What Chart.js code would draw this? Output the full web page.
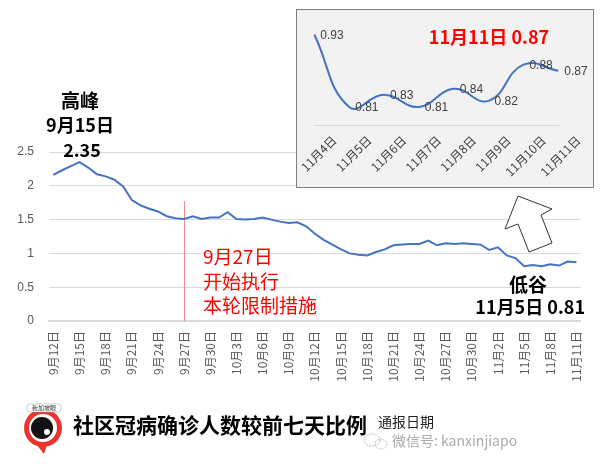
<!DOCTYPE html>
<html>
<head>
<meta charset="utf-8">
<script src="https://cdn.jsdelivr.net/npm/chart.js@4"></script>
<style>
  html, body { margin: 0; padding: 0; background: #fff; }
  #wrap { position: relative; width: 601px; height: 467px; overflow: hidden; font-family: "Noto Sans CJK SC", "Noto Sans", sans-serif; }
  #main { position: absolute; left: 0; top: 0; }
  #insetBox { position: absolute; left: 296px; top: 9px; width: 296px; height: 177px; background: #f2f2f2; border: 1px solid #7f7f7f; }
  #inset { position: absolute; left: 297px; top: 10px; }
  .t { position: absolute; white-space: nowrap; line-height: 1; }
  .c { transform: translate(-50%, -50%); }
  .b { font-weight: bold; color: #000; }
  .red { color: #ff0000; }
  svg { position: absolute; left: 0; top: 0; }
</style>
</head>
<body>
<div id="wrap">
  <canvas id="main" width="601" height="467"></canvas>
  <div id="insetBox"></div>
  <canvas id="inset" width="296" height="177"></canvas>

  <svg width="601" height="467">
    <!-- hollow arrow pointing at the inset -->
    <polygon points="518,196 552,209 541,215 552,243 529,252 518,224 505,229"
             fill="#fff" stroke="#333" stroke-width="1"/>
    <!-- logo -->
    <circle cx="43" cy="428" r="19" fill="#e8352e"/>
    <path d="M36 444 L44 454 L47 445 Z" fill="#e8352e"/>
    <circle cx="43" cy="428" r="14" fill="#fff"/>
    <circle cx="42" cy="428" r="11" fill="#111"/>
    <circle cx="47" cy="432" r="3" fill="#fff"/>
    <rect x="27" y="404" width="34" height="8" rx="3" fill="#fff" stroke="#999" stroke-width="0.5"/>
    <text x="44" y="410" font-size="6" text-anchor="middle" fill="#333" font-family="Noto Sans CJK SC">新加坡眼</text>
    <!-- wechat icon -->
    <ellipse cx="372" cy="440" rx="8" ry="6" fill="none" stroke="#bbb" stroke-width="1" stroke-dasharray="2 1"/>
    <ellipse cx="381" cy="444" rx="6" ry="5" fill="none" stroke="#bbb" stroke-width="1" stroke-dasharray="2 1"/>
  </svg>

  <div class="t c b" style="left:80px; top:99px; font-size:19px;">高峰</div>
  <div class="t c b" style="left:80px; top:124px; font-size:18px;">9月15日</div>
  <div class="t c b" style="left:82px; top:149px; font-size:18px;">2.35</div>

  <div class="t red" style="left:203px; top:246px; font-size:19px;">9月27日</div>
  <div class="t red" style="left:203px; top:271px; font-size:19px;">开始执行</div>
  <div class="t red" style="left:203px; top:295px; font-size:19px;">本轮限制措施</div>

  <div class="t c b" style="left:528px; top:283px; font-size:19px;">低谷</div>
  <div class="t b" style="right:16px; top:297px; font-size:18px;">11月5日 0.81</div>

  <div class="t c b red" style="left:489px; top:36px; font-size:18px; color:#ff0000;">11月11日 0.87</div>

  <div class="t b" style="left:73px; top:414px; font-size:21px;">社区冠病确诊人数较前七天比例</div>
  <div class="t" style="left:378px; top:414px; font-size:14px; color:#222;">通报日期</div>
  <div class="t" style="left:392px; top:433px; font-size:14px; color:#aaa;">微信号: kanxinjiapo</div>
</div>

<script>
// 9月12日 .. 11月11日, one point per day
const dayLabels = [
  "9月12日","9月13日","9月14日","9月15日","9月16日","9月17日","9月18日","9月19日","9月20日","9月21日",
  "9月22日","9月23日","9月24日","9月25日","9月26日","9月27日","9月28日","9月29日","9月30日",
  "10月1日","10月2日","10月3日","10月4日","10月5日","10月6日","10月7日","10月8日","10月9日","10月10日",
  "10月11日","10月12日","10月13日","10月14日","10月15日","10月16日","10月17日","10月18日","10月19日","10月20日",
  "10月21日","10月22日","10月23日","10月24日","10月25日","10月26日","10月27日","10月28日","10月29日","10月30日","10月31日",
  "11月1日","11月2日","11月3日","11月4日","11月5日","11月6日","11月7日","11月8日","11月9日","11月10日","11月11日"
];

const ratio = [
  2.16, 2.23, 2.29, 2.35, 2.27, 2.17, 2.14, 2.09, 1.99, 1.79,
  1.71, 1.66, 1.62, 1.55, 1.52, 1.51, 1.55, 1.51, 1.53,
  1.53, 1.61, 1.51, 1.50, 1.51, 1.53, 1.50, 1.47, 1.45, 1.46,
  1.40, 1.29, 1.20, 1.13, 1.06, 1.00, 0.98, 0.97, 1.02, 1.06,
  1.12, 1.13, 1.14, 1.14, 1.19, 1.12, 1.15, 1.14, 1.15, 1.14, 1.13,
  1.05, 1.09, 0.97, 0.93, 0.81, 0.83, 0.81, 0.84, 0.82, 0.88, 0.87
];

const yTicks = [0, 0.5, 1, 1.5, 2, 2.5];

// inset: last eight days
const insetLabels = ["11月4日","11月5日","11月6日","11月7日","11月8日","11月9日","11月10日","11月11日"];
const insetValues = [0.93, 0.81, 0.83, 0.81, 0.84, 0.82, 0.88, 0.87];

const markIndex = 15;   // 9月27日 restrictions start
const markTop = 1.77;

const LINE_BLUE = "#4472c4";
const GRID = "#d9d9d9";
const TICK = "#595959";

// red marker line for 9/27
const markerLine = {
  id: "markerLine",
  beforeDatasetsDraw(chart) {
    const { ctx, scales: { x, y } } = chart;
    const px = Math.round(x.getPixelForValue(markIndex)) + 0.5;
    ctx.save();
    ctx.strokeStyle = "#ec8a8f";
    ctx.lineWidth = 1;
    ctx.beginPath();
    ctx.moveTo(px, y.getPixelForValue(markTop));
    ctx.lineTo(px, y.bottom);
    ctx.stroke();
    ctx.restore();
  }
};

// value labels to the right of each inset point
const pointLabels = {
  id: "pointLabels",
  afterDatasetsDraw(chart) {
    const { ctx } = chart;
    const meta = chart.getDatasetMeta(0);
    ctx.save();
    ctx.font = "12px 'Liberation Sans', sans-serif";
    ctx.fillStyle = "#404040";
    ctx.textAlign = "left";
    ctx.textBaseline = "middle";
    meta.data.forEach((p, i) => {
      ctx.fillText(insetValues[i].toFixed(2), p.x + 6, p.y + 1);
    });
    ctx.restore();
  }
};

new Chart(document.getElementById("main"), {
  type: "line",
  data: {
    labels: dayLabels,
    datasets: [{
      data: ratio,
      borderColor: LINE_BLUE,
      borderWidth: 2,
      pointRadius: 0,
      tension: 0,
      fill: false
    }]
  },
  options: {
    responsive: false,
    animation: false,
    layout: { padding: { top: 152, right: 18, left: 0, bottom: 0 } },
    plugins: { legend: { display: false }, tooltip: { enabled: false } },
    scales: {
      x: {
        type: "category",
        offset: true,
        grid: { display: false, drawTicks: false },
        border: { display: true, color: GRID, width: 2 },
        ticks: {
          autoSkip: false,
          maxRotation: 90,
          minRotation: 90,
          padding: 10,
          color: TICK,
          font: { family: "'Noto Sans CJK SC', sans-serif", size: 12 },
          callback: (v, i) => (i % 3 === 0 ? dayLabels[i] : "")
        },
        afterFit: s => { s.height = 146; }
      },
      y: {
        min: 0,
        max: 2.5,
        grid: { color: GRID, drawTicks: false },
        border: { display: false },
        afterBuildTicks: s => { s.ticks = yTicks.map(v => ({ value: v })); },
        ticks: {
          padding: 15,
          color: TICK,
          font: { family: "'Liberation Sans', sans-serif", size: 12 },
          callback: v => String(v)
        },
        afterFit: s => { s.width = 49; }
      }
    }
  },
  plugins: [markerLine]
});

new Chart(document.getElementById("inset"), {
  type: "line",
  data: {
    labels: insetLabels,
    datasets: [{
      data: insetValues,
      borderColor: LINE_BLUE,
      borderWidth: 2,
      pointRadius: 0,
      tension: 0.45,
      fill: false
    }]
  },
  options: {
    responsive: false,
    animation: false,
    layout: { padding: { top: 12.5, right: 34.7, left: 17.3, bottom: 0 } },
    plugins: { legend: { display: false }, tooltip: { enabled: false } },
    scales: {
      x: {
        offset: false,
        grid: { display: false, drawTicks: false },
        border: { display: true, color: GRID, width: 1 },
        ticks: {
          autoSkip: false,
          maxRotation: 45,
          minRotation: 45,
          padding: 8,
          labelOffset: 20,
          color: "#404040",
          font: { family: "'Noto Sans CJK SC', sans-serif", size: 12 }
        },
        afterFit: s => { s.height = 62; s.paddingLeft = 0; s.paddingRight = 0; }
      },
      y: {
        display: false,
        min: 0.78,
        max: 0.95
      }
    }
  },
  plugins: [pointLabels]
});
</script>
</body>
</html>
